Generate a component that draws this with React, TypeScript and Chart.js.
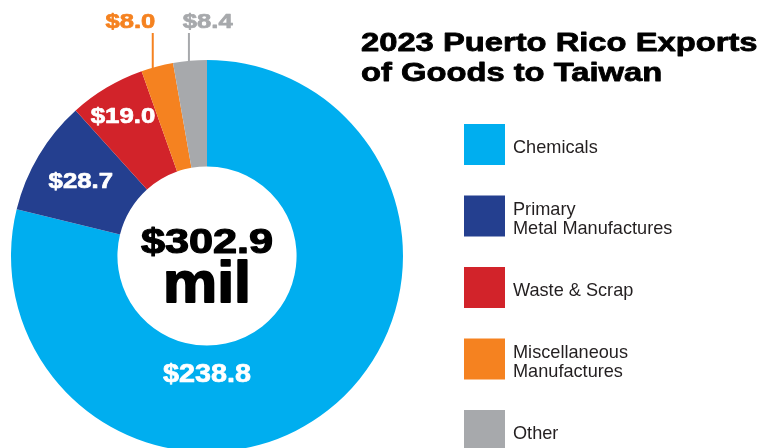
import React, { useEffect, useRef } from "react";
import { Chart, registerables } from "chart.js";

Chart.register(...registerables);

// ---- data ----
const categories = [
  "Chemicals",
  "Primary Metal Manufactures",
  "Waste & Scrap",
  "Miscellaneous Manufactures",
  "Other",
];
const legendLines = [
  ["Chemicals"],
  ["Primary", "Metal Manufactures"],
  ["Waste & Scrap"],
  ["Miscellaneous", "Manufactures"],
  ["Other"],
];
const values = [238.8, 28.7, 19.0, 8.0, 8.4];
const colors = ["#00AEEF", "#243F8F", "#D2232A", "#F58220", "#A7A9AC"];
const titleLines = ["2023 Puerto Rico Exports", "of Goods to Taiwan"];
const unitLabel = "mil";

const fmt = (v: number) => "$" + v.toFixed(1);

// ---- layout (styles/positions only) ----
const FONT = "'Liberation Sans', Arial, Helvetica, sans-serif";
const labelLayout = [
  { mode: "inside", angle: Math.PI / 2, rFrac: 0.254, size: 25, sx: 1.15, color: "#ffffff" },
  { mode: "inside", rFrac: 0.54, size: 22, sx: 1.17, color: "#ffffff" },
  { mode: "inside", rFrac: 0.7, size: 21.5, sx: 1.2, color: "#ffffff" },
  { mode: "outside", anchorFrac: 0.36, dx: -22.4, size: 21, sx: 1.22, color: "#F58220" },
  { mode: "outside", anchorFrac: 0.47, dx: 18.8, size: 21, sx: 1.22, color: "#A7A9AC" },
];

function drawText(
  ctx: CanvasRenderingContext2D,
  text: string,
  x: number,
  y: number,
  font: string,
  sx: number,
  color: string,
  align: "left" | "center",
  stroke = 0
) {
  ctx.save();
  ctx.font = font;
  ctx.fillStyle = color;
  ctx.strokeStyle = color;
  ctx.textBaseline = "alphabetic";
  ctx.textAlign = "left";
  const w = ctx.measureText(text).width * sx;
  const left = align === "center" ? x - w / 2 : x;
  ctx.translate(left, y);
  ctx.scale(sx, 1);
  ctx.fillText(text, 0, 0);
  if (stroke > 0) {
    ctx.lineWidth = stroke;
    ctx.lineJoin = "round";
    ctx.strokeText(text, 0, 0);
  }
  ctx.restore();
}

const overlayPlugin = {
  id: "overlay",
  afterDraw(chart: any) {
    const ctx: CanvasRenderingContext2D = chart.ctx;
    const meta = chart.getDatasetMeta(0);
    const total = values.reduce((a, b) => a + b, 0);

    // slice labels
    meta.data.forEach((arc: any, i: number) => {
      const p = arc.getProps(["x", "y", "startAngle", "endAngle", "innerRadius", "outerRadius"], true);
      const L: any = labelLayout[i];
      const font = `bold ${L.size}px ${FONT}`;
      const text = fmt(values[i]);
      if (L.mode === "inside") {
        const ang = L.angle !== undefined ? L.angle : (p.startAngle + p.endAngle) / 2;
        const r = p.innerRadius + (p.outerRadius - p.innerRadius) * L.rFrac;
        const cx = p.x + Math.cos(ang) * r;
        const cy = p.y + Math.sin(ang) * r;
        drawText(ctx, text, cx, cy + 0.358 * L.size, font, L.sx, L.color, "center", 0.7);
      } else {
        const ang = p.startAngle + (p.endAngle - p.startAngle) * L.anchorFrac;
        const ax = p.x + Math.cos(ang) * p.outerRadius;
        const ay = p.y + Math.sin(ang) * p.outerRadius;
        ctx.save();
        ctx.strokeStyle = L.color;
        ctx.lineWidth = 2;
        ctx.beginPath();
        ctx.moveTo(ax, ay + 1);
        ctx.lineTo(ax, 33);
        ctx.stroke();
        ctx.restore();
        drawText(ctx, text, ax + L.dx, 28.3, font, L.sx, L.color, "center", 0.7);
      }
    });

    // center total
    const c = meta.data[0].getProps(["x", "y"], true);
    drawText(ctx, fmt(total), c.x, 253.3, `bold 35px ${FONT}`, 1.235, "#000000", "center", 1.2);
    drawText(ctx, unitLabel, c.x, 301.7, `bold 58px ${FONT}`, 1.05, "#000000", "center", 1.8);

    // title
    titleLines.forEach((t, i) => {
      drawText(ctx, t, 361, 50.7 + i * 30.3, `bold 26.5px ${FONT}`, 1.235, "#000000", "left", 0.8);
    });

    // legend
    categories.forEach((_, i) => {
      const cy = 144.5 + i * 71.5;
      ctx.save();
      ctx.fillStyle = colors[i];
      ctx.fillRect(464, cy - 20.5, 41, 41);
      ctx.restore();
      const lines = legendLines[i];
      const lh = 19;
      lines.forEach((ln, j) => {
        const by = cy + 8.8 - ((lines.length - 1) * lh) / 2 + j * lh;
        drawText(ctx, ln, 513, by, `19px ${FONT}`, 0.955, "#231F20", "left");
      });
    });
  },
};

export default function App() {
  const ref = useRef<HTMLCanvasElement | null>(null);

  useEffect(() => {
    document.body.style.margin = "0";
    const canvas = ref.current;
    if (!canvas) return;
    const chart = new Chart(canvas, {
      type: "doughnut",
      data: {
        labels: categories,
        datasets: [
          {
            data: values,
            backgroundColor: colors,
            borderWidth: 0,
            hoverOffset: 0,
          },
        ],
      },
      options: {
        responsive: false,
        animation: false,
        devicePixelRatio: 1,
        cutout: "45.7%",
        layout: { padding: { left: 11, top: 60, right: 377, bottom: 88 } },
        plugins: {
          legend: { display: false },
          title: { display: false },
          tooltip: { enabled: false },
        },
        events: [],
      },
      plugins: [overlayPlugin],
    });
    return () => chart.destroy();
  }, []);

  return (
    <div
      style={{
        position: "absolute",
        left: 0,
        top: 0,
        width: 780,
        height: 448,
        overflow: "hidden",
        background: "#ffffff",
      }}
    >
      <canvas ref={ref} width={780} height={540} style={{ display: "block" }} />
    </div>
  );
}
